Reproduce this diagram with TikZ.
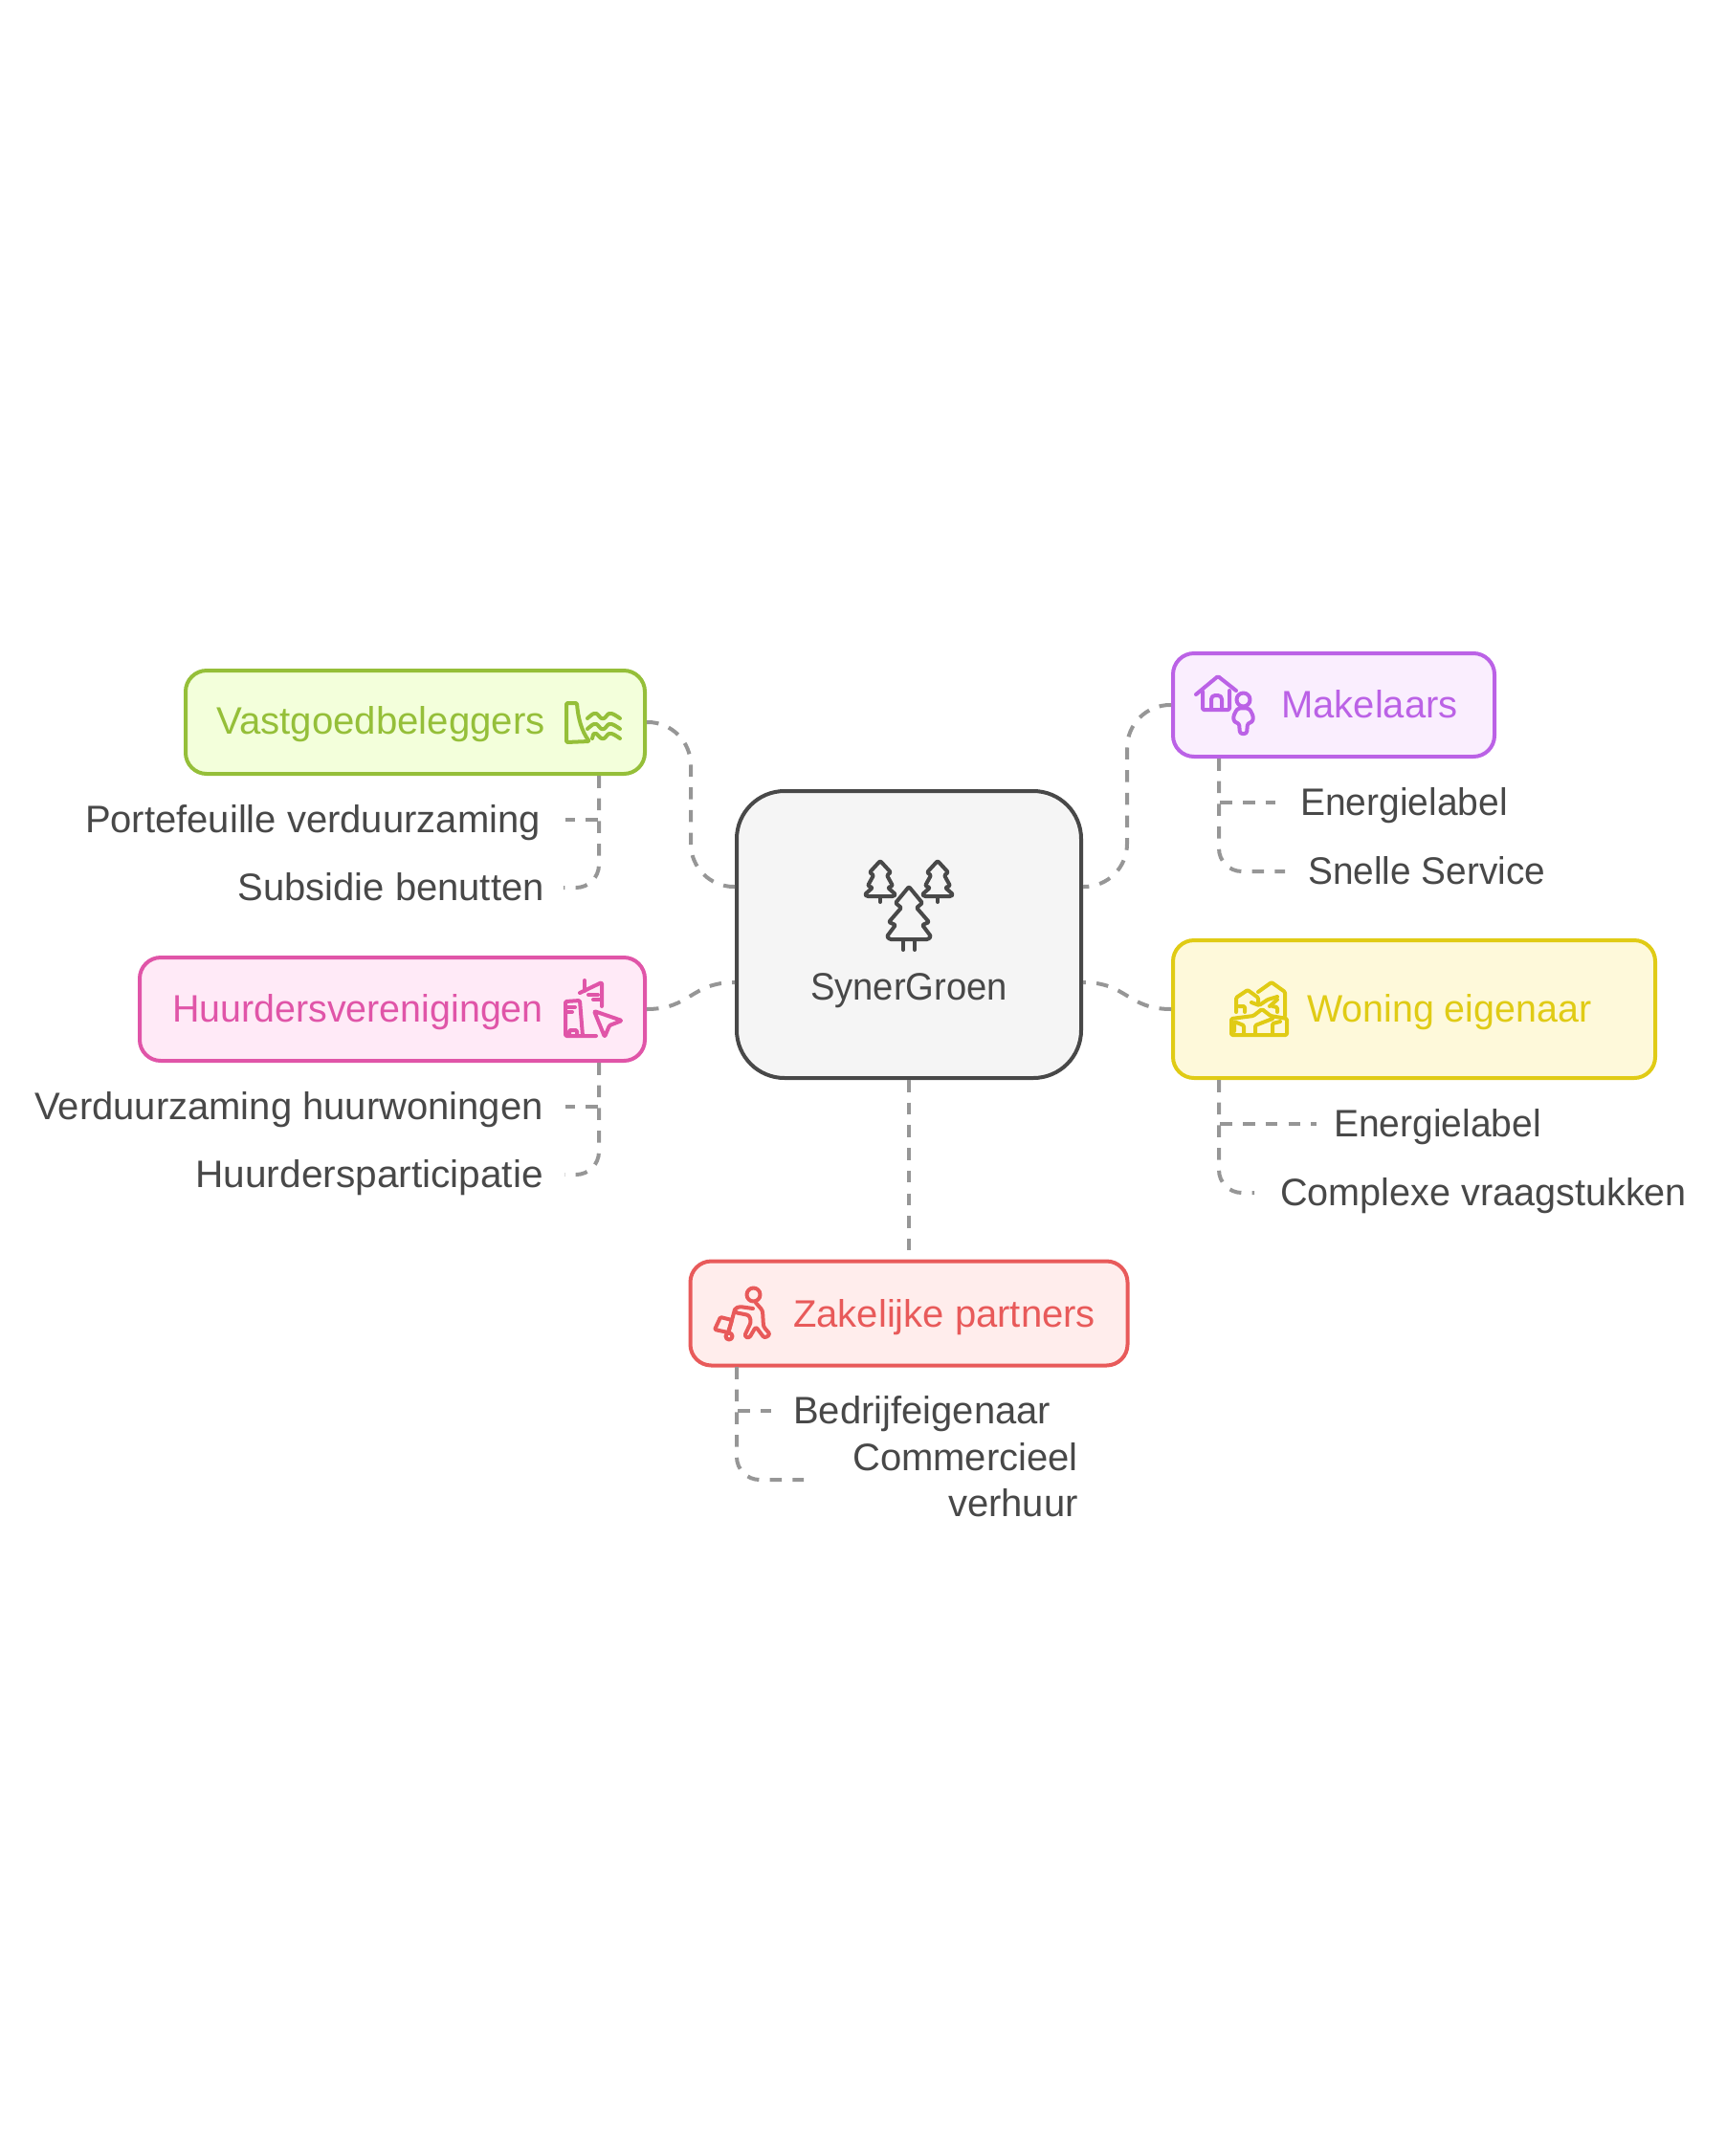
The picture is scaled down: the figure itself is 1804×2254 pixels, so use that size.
\documentclass[tikz,border=0pt]{standalone}
\usepackage{fontspec}
\setmainfont{Liberation Sans}
\definecolor{ink}{HTML}{484848}
\definecolor{hubfill}{HTML}{F5F5F5}
\definecolor{linkgrey}{HTML}{969696}
\definecolor{vastline}{HTML}{95BF39}
\definecolor{vastfill}{HTML}{F3FFDB}
\definecolor{makeline}{HTML}{BB62E6}
\definecolor{makefill}{HTML}{FAEEFE}
\definecolor{huurline}{HTML}{E055A8}
\definecolor{huurfill}{HTML}{FFEAF7}
\definecolor{woonline}{HTML}{E0CB15}
\definecolor{woonfill}{HTML}{FEF9DA}
\definecolor{zaakline}{HTML}{E85A5A}
\definecolor{zaakfill}{HTML}{FFEDEC}
\newcommand{\narrowed}[2]{\scalebox{#1}[1]{#2}}
\tikzset{
  boxnode/.style={draw, rounded corners=22pt, line width=4pt, inner sep=0pt},
  boxlabel/.style={font=\fontsize{40}{48}\selectfont, inner sep=0pt},
  leaf/.style={text=ink, font=\fontsize{40}{48}\selectfont, inner ysep=0pt, text height=32pt, text depth=6pt},
  link/.style={draw=linkgrey, line width=4pt, dash pattern=on 12.5pt off 11.2pt},
  glyph/.style={line width=4pt, line cap=round, line join=round, rounded corners=1.2pt},
}
\begin{document}
\begin{tikzpicture}[x=1pt, y=-1pt]
\useasboundingbox (0,0) rectangle (1804,2254);
\node[boxnode, draw=ink, fill=hubfill, rounded corners=50pt, minimum width=360pt, minimum height=300pt] (hub) at (950,977) {};
\node[boxlabel, text=ink, anchor=base] (hublabel) at (950,1045) {\narrowed{.955}{SynerGroen}};
\coordinate (hubnw) at (768,927);
\coordinate (hubne) at (1132,927);
\coordinate (hubsw) at (768,1027);
\coordinate (hubse) at (1132,1027);
% boxes
\node[boxnode, draw=vastline, fill=vastfill, minimum width=480pt, minimum height=108pt] (vast) at (434,755) {};
\node[boxlabel, text=vastline, anchor=base west] (vastlabel) at (226,767) {\narrowed{1.005}{Vastgoedbeleggers}};
\node[boxnode, draw=makeline, fill=makefill, minimum width=336pt, minimum height=108pt] (make) at (1394,737) {};
\node[boxlabel, text=makeline, anchor=base west] (makelabel) at (1339,750) {Makelaars};
\node[boxnode, draw=huurline, fill=huurfill, minimum width=528pt, minimum height=108pt] (huur) at (410,1055) {};
\node[boxlabel, text=huurline, anchor=base west] (huurlabel) at (180,1068) {\narrowed{.985}{Huurdersverenigingen}};
\node[boxnode, draw=woonline, fill=woonfill, minimum width=504pt, minimum height=144pt] (woon) at (1478,1055) {};
\node[boxlabel, text=woonline, anchor=base west] (woonlabel) at (1366,1068) {\narrowed{.985}{Woning eigenaar}};
\node[boxnode, draw=zaakline, fill=zaakfill, minimum width=457pt, minimum height=109pt] (zaak) at (950,1373) {};
\node[boxlabel, text=zaakline, anchor=base west] (zaaklabel) at (829,1387) {Zakelijke partners};
% leaves
\node[leaf, anchor=east, inner xsep=26pt] (port) at (591,857) {Portefeuille verduurzaming};
\node[leaf, anchor=east, inner xsep=20pt] (subs) at (589,928) {Subsidie benutten};
\node[leaf, anchor=east, inner xsep=23pt] (verd) at (591,1157) {Verduurzaming huurwoningen};
\node[leaf, anchor=east, inner xsep=22pt] (part) at (590,1228) {\narrowed{1.015}{Huurdersparticipatie}};
\node[leaf, anchor=west, inner xsep=26pt] (mlab) at (1333,839) {\narrowed{.975}{Energielabel}};
\node[leaf, anchor=west, inner xsep=24pt] (snel) at (1343,911) {\narrowed{.97}{Snelle Service}};
\node[leaf, anchor=west, inner xsep=18pt] (wlab) at (1376,1175) {\narrowed{.975}{Energielabel}};
\node[leaf, anchor=west, inner xsep=27pt] (comp) at (1311,1247) {\narrowed{.99}{Complexe vraagstukken}};
\node[leaf, anchor=west, inner xsep=23pt] (bedr) at (806,1475) {Bedrijfeigenaar};
\node[text=ink, font=\fontsize{40}{48}\selectfont, align=right, anchor=west, inner xsep=51pt, inner ysep=0pt] (verh) at (840,1547) {Commercieel\\verhuur};
% drop points
\coordinate (vastdrop) at (626,811);
\coordinate (makedrop) at (1274,793);
\coordinate (huurdrop) at (626,1111);
\coordinate (woondrop) at (1274,1129);
\coordinate (zaakdrop) at (770,1429);
% links to the hub
\draw[link, rounded corners=45pt] (vast.east) -- (722,755) -- (722,927) -- (hubnw);
\draw[link, rounded corners=45pt] (make.west) -- (1178,737) -- (1178,927) -- (hubne);
\draw[link] (huur.east) .. controls (722,1055) and (722,1027) .. (hubsw);
\draw[link] (woon.west) .. controls (1178,1055) and (1178,1027) .. (hubse);
\draw[link] (hub.south) -- (zaak.north);
% links to the leaves
\draw[link] (vastdrop) |- (port.east);
\draw[link, rounded corners=24pt] (vastdrop) |- (subs.east);
\draw[link] (huurdrop) |- (verd.east);
\draw[link, rounded corners=24pt] (huurdrop) |- (part.east);
\draw[link] (makedrop) |- (mlab.west);
\draw[link, rounded corners=24pt] (makedrop) |- (snel.west);
\draw[link] (woondrop) |- (wlab.west);
\draw[link, rounded corners=24pt] (woondrop) |- (comp.west);
\draw[link] (zaakdrop) |- (bedr.west);
\draw[link, rounded corners=24pt] (zaakdrop) |- (verh.west);
% trees
\foreach \cx in {920,980} {
  \draw[glyph, ink] (\cx,900) -- ++(11,12) -- ++(-4,3) -- ++(6,11) -- ++(-5,2) -- ++(8,7) -- ++(-2,2) -- ++(-28,0) -- ++(-2,-2) -- ++(8,-7) -- ++(-5,-2) -- ++(6,-11) -- ++(-4,-3) -- cycle;
  \draw[glyph, ink] (\cx,937) -- ++(0,6);
}
\draw[glyph, ink] (950,927) -- (964,944) -- (958,949) -- (971,964) -- (964,967) -- (973,979) -- (970,982) -- (930,982) -- (927,979) -- (936,967) -- (929,964) -- (942,949) -- (936,944) -- cycle;
\draw[glyph, ink] (944,982) -- (944,993);
\draw[glyph, ink] (956,982) -- (956,993);
% dam
\draw[glyph, vastline] (592,735) -- (603,735) .. controls (604,750) and (608,765) .. (616,775) -- (592,776) -- cycle;
\foreach \wx/\wy in {614/751,614/762,619/772} {
  \draw[glyph, vastline] plot[smooth, tension=.6] coordinates {(\wx,\wy) (622,746+\wy-751) (630,\wy) (638,746+\wy-751) (648,\wy)};
}
% house and person
\draw[glyph, makeline] (1250,726) -- (1273,707) -- (1292,722);
\draw[glyph, makeline] (1257,723) -- (1257,742) -- (1285,742) -- (1285,722);
\draw[glyph, makeline, rounded corners=4pt] (1266,742) -- (1266,727) -- (1277,727) -- (1277,742);
\draw[glyph, makeline] (1299.5,731.5) circle (7);
\draw[glyph, makeline, rounded corners=2.5pt] (1299.5,740) -- (1306,741) -- (1310,749) -- (1309,755) -- (1304,756) -- (1303,767) -- (1296,767) -- (1295,756) -- (1290,755) -- (1289,749) -- (1293,741) -- cycle;
% buildings and cursor
\draw[glyph, huurline] (623,1083) -- (591,1083) -- (591,1047) -- (606,1046) -- (609,1083);
\draw[glyph, huurline] (606,1038) -- (629,1027) -- (629,1052);
\draw[glyph, huurline] (611,1025) -- (611,1036);
\draw[glyph, huurline] (615,1040) -- (625,1040);
\draw[glyph, huurline] (620,1045) -- (627,1045);
\draw[glyph, huurline] (593,1053) -- (601,1053);
\draw[glyph, huurline] (593,1058) -- (598,1058);
\draw[glyph, huurline] (595,1083) -- (595,1077) -- (603,1077) -- (603,1083);
\draw[glyph, huurline] (621,1057) -- (650,1067) -- (637,1072) -- (632,1084) -- cycle;
% houses
\draw[glyph, woonline] (1315,1037) -- (1329,1027) -- (1343,1037) -- (1343,1062);
\draw[glyph, woonline] (1292,1058) -- (1292,1043) -- (1304,1035) -- (1315,1043) -- (1315,1048);
\draw[glyph, woonline] (1301,1058) -- (1301,1052) -- (1295,1052);
\draw[glyph, woonline] (1308,1048) -- (1316,1051) -- (1325,1045) -- (1335,1042);
\draw[glyph, woonline] (1327,1052) -- (1335,1045);
\draw[glyph, woonline] (1335,1058) -- (1335,1053) -- (1330,1052);
\draw[glyph, woonline] (1287,1065) -- (1310,1062) -- (1319,1055) -- (1328,1062) -- (1345,1065) -- (1345,1082) -- (1287,1082) -- cycle;
\draw[glyph, woonline] (1290,1078) -- (1290,1068) -- (1300,1072) -- (1300,1081);
\draw[glyph, woonline] (1312,1082) -- (1312,1072) -- (1330,1065);
\draw[glyph, woonline] (1330,1081) -- (1330,1070) -- (1338,1068);
% walker with case
\draw[glyph, zaakline] (787.5,1353.5) circle (7);
\draw[glyph, zaakline, rounded corners=2.5pt] (790,1362) -- (797,1370) -- (798,1387) -- (805,1395) -- (799,1399) -- (790,1387) -- (783,1399) -- (778,1397) -- (785,1382) -- (783,1375) -- (768,1372) -- (768,1368) -- (773,1366) -- (787,1368);
\draw[glyph, zaakline] (768,1369) -- (762,1391);
\draw[glyph, zaakline] (753,1377) -- (765,1380) -- (761,1393) -- (747,1390) -- cycle;
\draw[glyph, zaakline] (762,1397) circle (3.5);
\end{tikzpicture}
\end{document}
